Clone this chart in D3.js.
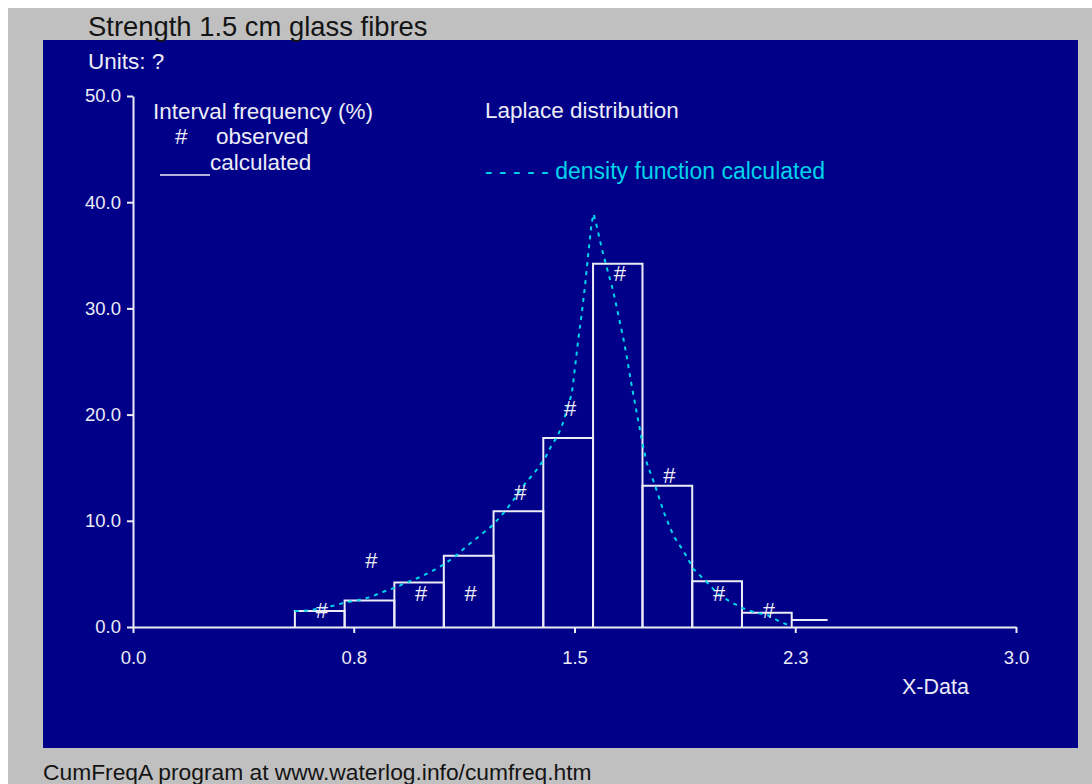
<!DOCTYPE html>
<html>
<head>
<meta charset="utf-8">
<script src="https://cdn.jsdelivr.net/npm/d3@7"></script>
<style>
  body { margin: 0; background: #ffffff; }
  svg { display: block; font-family: "Liberation Sans", Arial, sans-serif; }
</style>
</head>
<body>
<svg id="chart" width="1092" height="784"></svg>
<script>
// interval boundaries (X-Data)
const binEdges = [0.550, 0.719, 0.888, 1.056, 1.225, 1.394, 1.563, 1.731, 1.900, 2.069, 2.238, 2.360]
// calculated interval frequency (%), one per interval
const calcFreq = [1.5, 2.5, 4.2, 6.7, 10.9, 17.8, 34.2, 13.3, 4.3, 1.35, 0.66]
// observed interval frequency (%)
const obsFreq = [1.6, 6.3, 3.2, 3.2, 12.7, 20.6, 33.3, 14.3, 3.2, 1.6]

// density function calculated (dashed curve)
const curveX = [0.550, 0.595, 0.680, 0.720, 0.761, 0.805, 0.849, 0.890, 0.931, 0.975, 1.012, 1.057,
  1.097, 1.138, 1.223, 1.261, 1.291, 1.332, 1.366, 1.400, 1.420, 1.441, 1.457, 1.491, 1.502,
  1.513, 1.524, 1.536, 1.547, 1.558, 1.565, 1.576, 1.593, 1.614, 1.631, 1.648, 1.665, 1.678,
  1.695, 1.712, 1.729, 1.746, 1.774, 1.794, 1.805, 1.821, 1.838, 1.862, 1.882, 1.903, 1.943,
  1.988, 2.028, 2.069, 2.110, 2.157, 2.198, 2.225]
const curveY = [1.5, 1.55, 2.0, 2.3, 2.5, 2.8, 3.3, 3.7, 4.2, 4.7, 5.2, 5.9,
  6.7, 7.7, 9.6, 10.8, 11.9, 13.5, 14.6, 15.9, 17.0, 17.9, 18.9, 22.0, 24.5,
  27.1, 29.4, 32.2, 35.2, 38.0, 38.9, 37.7, 35.6, 33.4, 31.7, 29.5, 27.3, 25.4,
  22.6, 20.1, 17.6, 15.4, 13.3, 11.6, 10.7, 9.6, 8.5, 7.5, 6.6, 5.5, 4.4,
  3.1, 2.4, 1.8, 1.4, 1.1, 0.5, 0.2]

const yTicks = [0, 10, 20, 30, 40, 50]
const xTickValues = [0, 0.75, 1.5, 2.25, 3.0]
const xTickLabels = ["0.0", "0.8", "1.5", "2.3", "3.0"]

const ink = "#ececf6"
const cyan = "#00d4ea"

const svg = d3.select("#chart")

// frame
svg.append("rect").attr("x", 8).attr("y", 8).attr("width", 1084).attr("height", 776).attr("fill", "#c0c0c0")
svg.append("rect").attr("x", 43).attr("y", 40).attr("width", 1035).attr("height", 708).attr("fill", "#000088")

svg.append("text").attr("x", 88).attr("y", 36)
  .attr("font-size", 27.4).attr("fill", "#141414")
  .text("Strength 1.5 cm glass fibres")

svg.append("text").attr("x", 43).attr("y", 780)
  .attr("font-size", 22.8).attr("fill", "#141414")
  .text("CumFreqA program at www.waterlog.info/cumfreq.htm")

svg.append("text").attr("x", 88).attr("y", 69)
  .attr("font-size", 22.5).attr("fill", ink)
  .text("Units: ?")

const x = d3.scaleLinear().domain([0, 3]).range([133, 1016])
const y = d3.scaleLinear().domain([0, 50]).range([627, 96])

// axes
const yAxis = svg.append("g").attr("transform", "translate(133,0)")
  .call(d3.axisLeft(y).tickValues(yTicks).tickFormat(d3.format(".1f")).tickSize(6).tickSizeOuter(0))
const xAxis = svg.append("g").attr("transform", "translate(0,627)")
  .call(d3.axisBottom(x).tickValues(xTickValues).tickFormat((d, i) => xTickLabels[i]).tickSize(6).tickSizeOuter(0))

;[yAxis, xAxis].forEach(g => {
  g.select(".domain").attr("stroke", ink).attr("stroke-width", 2)
  g.selectAll(".tick line").attr("stroke", ink).attr("stroke-width", 2)
  g.selectAll(".tick text").attr("fill", ink).attr("font-size", 18.5)
    .attr("font-family", "\"Liberation Sans\", Arial, sans-serif")
})
yAxis.selectAll(".tick text").attr("x", -12)
xAxis.selectAll(".tick text").attr("y", 24)

svg.append("text").attr("x", 902).attr("y", 694)
  .attr("font-size", 21.5).attr("fill", ink)
  .text("X-Data")

// calculated interval frequency bars
const bars = calcFreq.map((v, i) => ({ lo: binEdges[i], hi: binEdges[i + 1], v: v }))
svg.append("g").selectAll("path")
  .data(bars)
  .enter()
  .append("path")
  .attr("d", (d, i) => i < bars.length - 1
    ? `M${x(d.lo)},${y(0)}V${y(d.v)}H${x(d.hi)}V${y(0)}`
    : `M${x(d.lo)},${y(d.v)}H${x(d.hi)}`)
  .attr("fill", "none")
  .attr("stroke", ink)
  .attr("stroke-width", 2)

// density curve
const line = d3.line().x(d => x(d[0])).y(d => y(d[1]))
svg.append("path")
  .datum(curveX.map((v, i) => [v, curveY[i]]))
  .attr("d", line)
  .attr("fill", "none")
  .attr("stroke", cyan)
  .attr("stroke-width", 2)
  .attr("stroke-dasharray", "4,5")

// observed marks
svg.append("g").selectAll("text")
  .data(obsFreq)
  .enter()
  .append("text")
  .attr("x", (d, i) => x((binEdges[i] + binEdges[i + 1]) / 2) + 2)
  .attr("y", d => y(d))
  .attr("dy", "0.36em")
  .attr("text-anchor", "middle")
  .attr("font-size", 22)
  .attr("fill", ink)
  .text("#")

// legend
const legend = svg.append("g").attr("font-size", 22.5).attr("fill", ink)
legend.append("text").attr("x", 153).attr("y", 119).text("Interval frequency (%)")
legend.append("text").attr("x", 175).attr("y", 144).text("#")
legend.append("text").attr("x", 216).attr("y", 144).text("observed")
legend.append("line").attr("x1", 160).attr("x2", 210).attr("y1", 175).attr("y2", 175)
  .attr("stroke", ink).attr("stroke-width", 1.5)
legend.append("text").attr("x", 210).attr("y", 170).text("calculated")
legend.append("text").attr("x", 485).attr("y", 118).text("Laplace distribution")
legend.append("text").attr("x", 485).attr("y", 179).attr("fill", cyan).attr("font-size", 23)
  .text("- - - - - density function calculated")
</script>
</body>
</html>
